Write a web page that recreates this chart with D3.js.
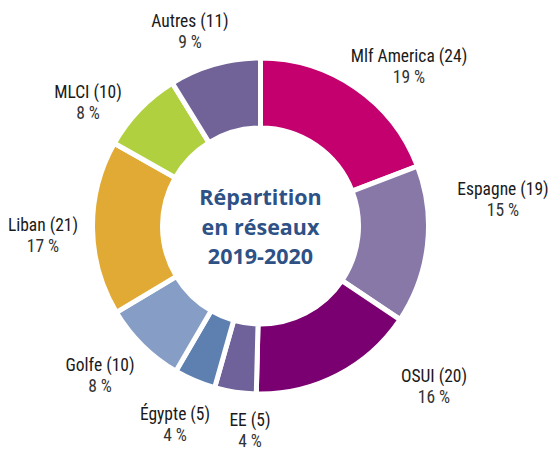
<!DOCTYPE html>
<html>
<head>
<meta charset="utf-8">
<script src="https://cdn.jsdelivr.net/npm/d3@7.9.0/dist/d3.min.js"></script>
<style>
  body { margin: 0; background: #fff; }
  .lbl { font-family: "Roboto Condensed", "Liberation Sans Narrow", "DejaVu Sans Condensed", Roboto, sans-serif; font-stretch: condensed; font-size: 17.5px; fill: #1a1a1a; }
</style>
</head>
<body>
<div id="chart"></div>
<script>
const categories = ['Mlf America', 'Espagne', 'OSUI', 'EE', 'Égypte', 'Golfe', 'Liban', 'MLCI', 'Autres'];
const counts = [24, 19, 20, 5, 5, 10, 21, 10, 11];
const percents = ['19 %', '15 %', '16 %', '4 %', '4 %', '8 %', '17 %', '8 %', '9 %'];
const colors = ['#C4006E', '#8778A8', '#7A0071', '#6F6199', '#5E80B0', '#869EC6', '#E0AA35', '#B1D040', '#716398'];
const titleLines = ['Répartition', 'en réseaux', '2019-2020'];

// hand placed label centres (first line baseline)
const labelPos = [[409, 62], [503, 195], [434, 382], [250, 426], [175, 420], [100, 371], [43, 231], [88, 98], [190, 27]];

const width = 553, height = 450;
const cx = 260.5, cy = 226;
const outerR = 168, innerR = 98;

const svg = d3.select('#chart').append('svg')
  .attr('width', width)
  .attr('height', height);

const data = categories.map((c, i) => ({ name: c, value: counts[i], pct: percents[i], color: colors[i] }));

const pie = d3.pie().value(d => d.value).sort(null);
const arc = d3.arc().innerRadius(innerR).outerRadius(outerR);

const g = svg.append('g').attr('transform', `translate(${cx},${cy})`);

g.selectAll('path')
  .data(pie(data))
  .enter().append('path')
  .attr('d', arc)
  .attr('fill', d => d.data.color)
  .attr('stroke', '#fff')
  .attr('stroke-width', 5)
  .attr('stroke-linejoin', 'miter');

// centre title
svg.append('text')
  .attr('x', cx).attr('y', 205)
  .attr('text-anchor', 'middle')
  .style('font-family', '"Open Sans", "Noto Sans", sans-serif')
  .style('font-weight', 'bold')
  .style('font-size', '21.5px')
  .style('fill', '#2E5186')
  .selectAll('tspan')
  .data(titleLines)
  .enter().append('tspan')
  .attr('x', cx)
  .attr('dy', (d, i) => i === 0 ? 0 : 29.5)
  .text(d => d);

// labels
const labels = svg.selectAll('.lbl-g')
  .data(data)
  .enter().append('text')
  .attr('class', 'lbl')
  .attr('text-anchor', 'middle')
  .attr('x', (d, i) => labelPos[i][0])
  .attr('y', (d, i) => labelPos[i][1]);

labels.append('tspan')
  .attr('x', (d, i) => labelPos[i][0])
  .text(d => `${d.name} (${d.value})`);

labels.append('tspan')
  .attr('x', (d, i) => labelPos[i][0])
  .attr('dy', 21)
  .style('fill', '#333')
  .text(d => d.pct);
</script>
</body>
</html>
